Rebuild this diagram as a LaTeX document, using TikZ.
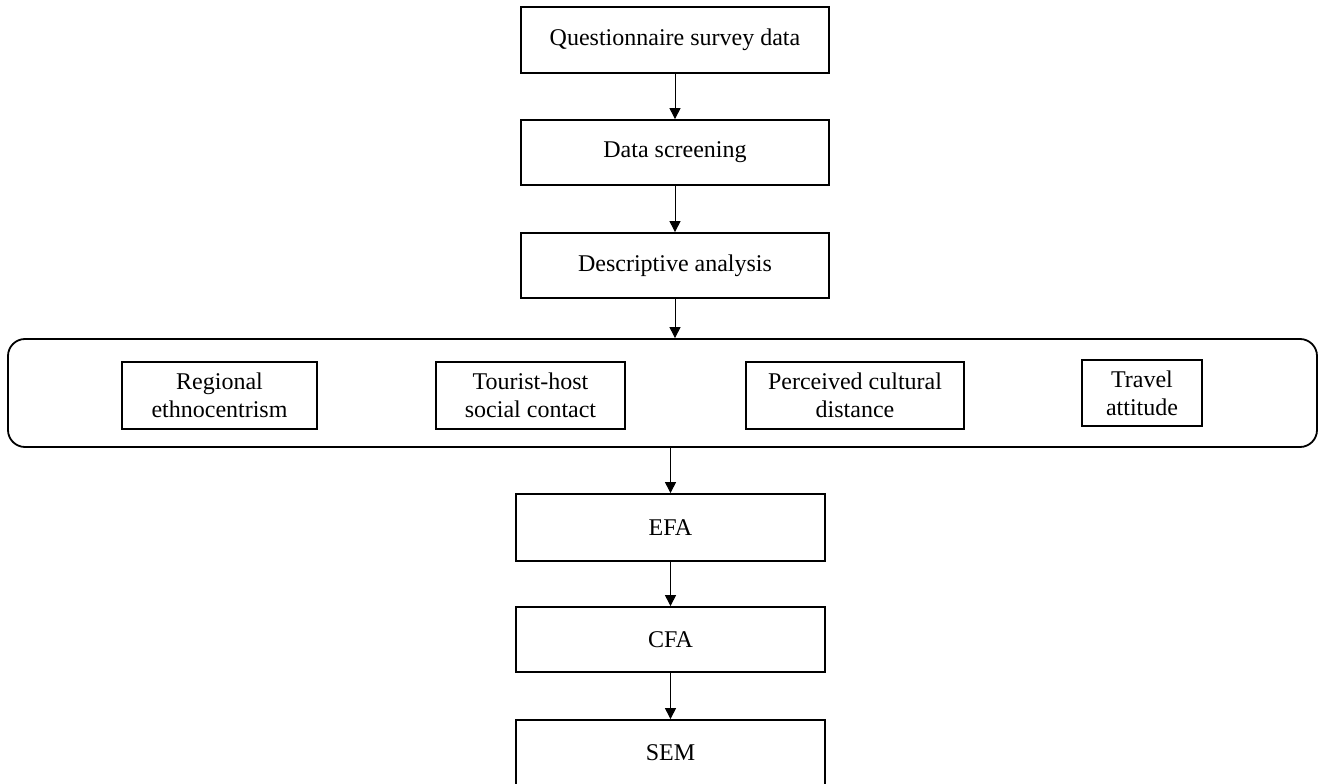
\documentclass[tikz,border=0pt]{standalone}
\usepackage{fontspec}
\setmainfont{Liberation Serif}
\usetikzlibrary{arrows.meta}
\begin{document}
\begin{tikzpicture}[x=1pt,y=-1pt,
  box/.style={draw,line width=1.8pt,minimum width=308pt,minimum height=65pt,font=\fontsize{24}{28}\selectfont,inner sep=0pt},
  item/.style={draw,line width=1.8pt,align=center,font=\fontsize{24}{28}\selectfont,inner sep=0pt},
  grp/.style={draw,line width=1.8pt,rounded corners=17pt,minimum width=1309pt,minimum height=108pt,inner sep=0pt},
  arr/.style={line width=1pt,-{Triangle[width=11pt,length=11pt]}}]
\useasboundingbox (0,0) rectangle (1318,784);
\clip (0,0) rectangle (1318,784);
\node[box,minimum height=66pt] (q) at (675,40) {Questionnaire survey data};
\node[box] (ds) at (675,152.5) {Data screening};
\node[box] (da) at (675,265.5) {Descriptive analysis};
\node[grp] (group) at (662.5,393) {};
\node[item,minimum width=195pt,minimum height=67pt] (r1) at (219.5,395.5) {Regional\\ethnocentrism};
\node[item,minimum width=189pt,minimum height=67pt] (r2) at (530.5,395.5) {Tourist-host\\social contact};
\node[item,minimum width=218pt,minimum height=67pt] (r3) at (855,395.5) {Perceived cultural\\distance};
\node[item,minimum width=120pt,minimum height=66pt] (r4) at (1142,393) {Travel\\attitude};
\node[box,minimum width=309pt,minimum height=67pt] (efa) at (670.5,527.5) {EFA};
\node[box,minimum width=309pt] (cfa) at (670.5,639.5) {CFA};
\node[box,minimum width=309pt,minimum height=66pt] (sem) at (670.5,753) {SEM};
\draw[arr] (q) -- (ds);
\draw[arr] (ds) -- (da);
\draw[arr] (da.south) -- (da.south |- group.north);
\draw[arr] (group.south -| efa.north) -- (efa.north);
\draw[arr] (efa) -- (cfa);
\draw[arr] (cfa) -- (sem);
\end{tikzpicture}
\end{document}
